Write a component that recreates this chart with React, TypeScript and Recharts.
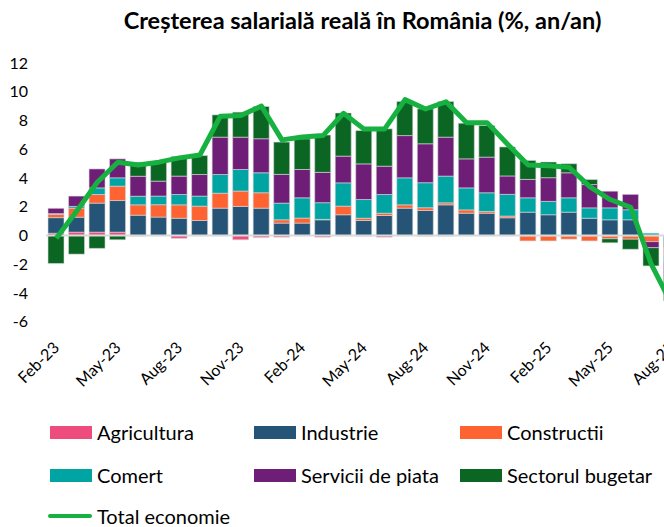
import { Bar, ComposedChart, Line, ReferenceLine, XAxis, YAxis } from "recharts"

const months = [
  "Feb-23", "Mar-23", "Apr-23", "May-23", "Jun-23", "Jul-23", "Aug-23", "Sep-23",
  "Oct-23", "Nov-23", "Dec-23", "Jan-24", "Feb-24", "Mar-24", "Apr-24", "May-24",
  "Jun-24", "Jul-24", "Aug-24", "Sep-24", "Oct-24", "Nov-24", "Dec-24", "Jan-25",
  "Feb-25", "Mar-25", "Apr-25", "May-25", "Jun-25", "Jul-25", "Aug-25",
]

const agricultura = [
  0.15, 0.23, 0.23, 0.23, -0.05, -0.03, -0.2, -0.03, -0.03, -0.3, -0.15, -0.12, -0.03, -0.12, -0.03, -0.05,
  -0.12, -0.03, -0.05, -0.05, -0.03, -0.03, -0.03, -0.03, -0.03, -0.03, -0.03, -0.03, -0.03, -0.03, -0.03,
]
const industrie = [
  1.09, 1.04, 2.02, 2.2, 1.41, 1.28, 1.2, 1.04, 1.9, 2.02, 1.9, 0.86, 0.86, 1.09, 1.44, 1.04,
  1.39, 1.9, 1.74, 2.13, 1.55, 1.55, 1.23, 1.62, 1.44, 1.62, 1.2, 1.09, 1.09, 0, -0.8,
]
const constructii = [
  0.23, 0.63, 0.6, 1.0, 0.72, 0.86, 0.93, 1.0, 1.04, 1.07, 1.07, 0.23, 0.35, 0.03, 0.6, 0.16,
  0.16, 0.23, 0.19, 0.14, 0.23, 0.12, 0.12, -0.35, -0.35, -0.23, -0.35, -0.2, -0.23, -0.4, -0.58,
]
const comert = [
  0.05, 0.12, 0.46, 0.58, 0.6, 0.6, 0.72, 0.7, 1.3, 1.5, 1.39, 1.16, 1.41, 1.16, 1.62, 1.3,
  1.3, 1.88, 1.74, 1.86, 1.53, 1.3, 1.51, 1.0, 0.93, 1.0, 0.72, 0.83, 0.7, 0.16, -0.46,
]
const servicii = [
  0.37, 0.72, 1.32, 1.32, 1.39, 1.04, 1.28, 1.5, 2.6, 2.25, 2.37, 2.0, 1.97, 2.11, 1.86, 2.48,
  1.97, 2.94, 2.71, 2.71, 2.02, 2.48, 1.28, 1.28, 1.65, 1.74, 1.62, 1.16, 1.07, -0.42, -0.93,
]
const bugetar = [
  -1.95, -1.3, -0.9, -0.3, 0.97, 1.32, 1.37, 1.32, 1.55, 1.74, 2.25, 2.25, 2.13, 2.6, 3.0, 2.32,
  2.6, 2.37, 2.43, 2.48, 2.48, 2.2, 2.02, 1.32, 1.09, 0.63, 0.35, -0.28, -0.7, -1.27, -1.74,
]
const totalEconomie = [
  -0.2, 1.7, 3.7, 5.1, 4.9, 5.1, 5.4, 5.6, 8.3, 8.35, 9.0, 6.65, 6.85, 6.95, 8.5, 7.4,
  7.4, 9.45, 8.8, 9.3, 7.85, 7.85, 6.35, 4.9, 4.85, 4.75, 3.4, 2.5, 1.95, -2.0, -4.8,
]

const yTicks = [-6, -4, -2, 0, 2, 4, 6, 8, 10, 12]

const series = [
  { key: "agricultura", name: "Agricultura", color: "#ee4c7c", values: agricultura },
  { key: "industrie", name: "Industrie", color: "#255476", values: industrie },
  { key: "constructii", name: "Constructii", color: "#ff6331", values: constructii },
  { key: "comert", name: "Comert", color: "#00a4a3", values: comert },
  { key: "servicii", name: "Servicii de piata", color: "#6e1e76", values: servicii },
  { key: "bugetar", name: "Sectorul bugetar", color: "#0b6623", values: bugetar },
]
const lineColor = "#16b140"

const data = months.map((month, i) => {
  const row: Record<string, string | number> = { month, total: totalEconomie[i] }
  series.forEach((s) => (row[s.key] = s.values[i]))
  return row
})

function MonthTick(props: any) {
  const { x, y, payload } = props
  const tx = x + 4
  const ty = y + 19
  return (
    <text x={tx} y={ty} transform={`rotate(-45, ${tx}, ${ty})`} textAnchor="end" fontSize={16} fill="#000" fontFamily="Lato, sans-serif">
      {payload.value}
    </text>
  )
}

const legendPos = [
  { left: 50, top: 420 },
  { left: 254, top: 420 },
  { left: 460, top: 420 },
  { left: 50, top: 463 },
  { left: 254, top: 463 },
  { left: 460, top: 463 },
]

export default function App() {
  return (
    <div style={{ position: "fixed", left: 0, top: 0, width: 664, height: 527, overflow: "hidden", background: "#fff", fontFamily: "Lato, sans-serif" }}>
      <div style={{ position: "absolute", left: 0, top: 6, width: 725, textAlign: "center", fontWeight: 700, fontSize: 23.5, color: "#000" }}>
        Creșterea salarială reală în România (%, an/an)
      </div>
      <div style={{ position: "absolute", left: 0, top: 0 }}>
        <ComposedChart width={682} height={400} data={data} margin={{ top: 63, right: 0, bottom: 0, left: 0 }} stackOffset="sign">
          <XAxis dataKey="month" interval={2} axisLine={false} tickLine={false} height={78.3} tick={(p: any) => <MonthTick {...p} />} />
          <YAxis domain={[-6, 12]} ticks={yTicks} width={46} axisLine={false} tickLine={false} tickSize={0} tickMargin={18} tick={{ fill: "#000", fontSize: 16 }} />
          {series.map((s) => (
            <Bar key={s.key} dataKey={s.key} name={s.name} stackId="a" fill={s.color} barSize={16} stroke="#d9d9d9" strokeWidth={0.6} isAnimationActive={false} />
          ))}
          <ReferenceLine y={0} stroke="#d9d9d9" strokeWidth={2} />
          <Line dataKey="total" name="Total economie" stroke={lineColor} strokeWidth={5} dot={false} strokeLinejoin="round" isAnimationActive={false} />
        </ComposedChart>
      </div>
      {series.map((s, i) => (
        <div key={s.key} style={{ position: "absolute", left: legendPos[i].left, top: legendPos[i].top, display: "flex", alignItems: "center", fontSize: 20, color: "#000", whiteSpace: "nowrap" }}>
          <span style={{ display: "inline-block", width: 42, height: 13, background: s.color, marginRight: 5 }} />
          {s.name}
        </div>
      ))}
      <div style={{ position: "absolute", left: 48, top: 504, display: "flex", alignItems: "center", fontSize: 20, color: "#000", whiteSpace: "nowrap" }}>
        <span style={{ display: "inline-block", width: 44, height: 4, borderRadius: 2, background: lineColor, marginRight: 5 }} />
        Total economie
      </div>
    </div>
  )
}
